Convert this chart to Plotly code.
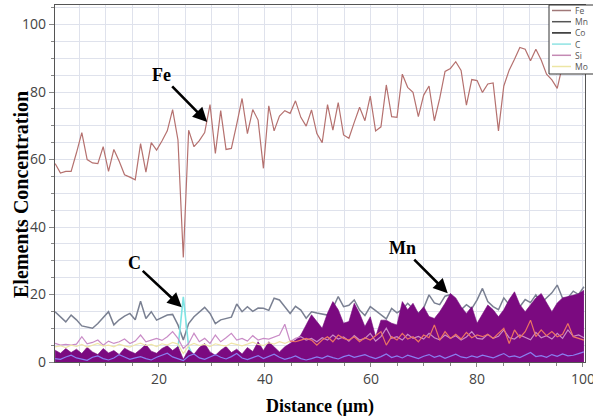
import numpy as np
import plotly.graph_objects as go

# ---------------- data ----------------
distance = np.linspace(0.4, 100.2, 100)  # µm, uniform sampling of the line scan

fe = [58.8, 56.0, 56.5, 56.5, 62.0, 68.0, 60.0, 59.0, 58.8, 63.8,
      56.5, 63.0, 59.5, 55.5, 54.8, 54.0, 64.7, 56.3, 65.0, 62.8,
      65.5, 68.5, 74.8, 65.8, 31.0, 68.7, 63.8, 65.6, 68.0, 76.3,
      61.8, 74.5, 63.0, 63.3, 70.5, 78.1, 67.7, 74.8, 71.7, 57.4,
      75.9, 68.5, 72.9, 74.5, 73.7, 77.4, 72.5, 69.9, 74.7, 67.7,
      65.0, 76.3, 68.7, 76.9, 67.3, 66.3, 71.0, 75.5, 71.5, 78.8,
      68.5, 69.7, 82.1, 72.7, 72.5, 85.3, 81.4, 79.9, 72.7, 79.1,
      81.8, 71.5, 78.1, 86.1, 87.0, 89.0, 86.4, 76.1, 83.7, 83.4,
      79.9, 82.4, 82.7, 68.5, 81.8, 86.5, 89.7, 93.2, 92.7, 89.3,
      92.7, 89.5, 85.3, 83.6, 81.1, 88.0, 90.0, 88.0, 90.0, 89.0]

mn = [3.5, 2.6, 4.0, 2.8, 3.8, 2.5, 4.4, 3.0, 2.2, 4.0,
      2.7, 3.4, 2.2, 4.1, 3.2, 2.5, 3.8, 5.2, 3.2, 2.6,
      4.0, 4.8, 3.4, 4.6, 0.8, 3.6, 2.3, 4.3, 5.5, 3.0,
      2.0, 3.5, 4.6, 2.8, 3.8, 2.4, 4.3, 3.1, 6.0, 3.4,
      6.0, 4.5, 3.0, 4.5, 5.5, 6.5, 8.0, 11.0, 14.0, 12.0,
      10.0, 14.5, 17.9, 15.5, 11.5, 12.0, 17.4, 14.4, 10.5, 13.4,
      7.5, 12.4, 12.4, 11.5, 11.0, 17.9, 15.5, 17.4, 14.4, 16.4,
      13.5, 12.9, 14.9, 17.4, 20.3, 19.0, 16.4, 14.4, 16.4, 11.5,
      14.0, 16.9, 15.5, 13.4, 15.5, 18.5, 20.8, 17.0, 14.9, 17.0,
      19.0, 20.3, 17.4, 14.9, 17.5, 19.0, 19.4, 19.9, 20.2, 21.3]

co = [14.9, 13.5, 11.9, 13.9, 12.5, 10.7, 10.4, 10.0, 11.4, 13.0,
      14.9, 11.0, 12.5, 13.6, 14.4, 12.5, 18.0, 12.9, 14.9, 12.4,
      13.2, 13.9, 14.1, 11.0, 6.5, 11.4, 13.4, 14.8, 16.2, 14.4,
      11.4, 12.5, 12.8, 13.3, 17.2, 14.9, 16.4, 15.0, 16.0, 15.9,
      15.3, 18.9, 18.4, 16.5, 14.4, 16.5, 15.4, 13.0, 14.9, 14.5,
      14.2, 13.9, 16.0, 19.4, 16.4, 16.8, 18.4, 15.4, 13.8, 16.4,
      15.2, 13.9, 12.8, 15.9, 14.6, 15.5, 17.4, 15.8, 14.4, 16.0,
      19.9, 17.5, 17.0, 19.5, 20.0, 16.4, 15.5, 17.0, 15.8, 18.4,
      21.8, 17.9, 16.4, 15.5, 19.0, 17.0, 18.4, 16.4, 18.5, 17.6,
      19.9, 17.5, 19.0, 20.5, 22.8, 18.9, 19.0, 21.0, 20.0, 22.3]

c = [1.2, 1.0, 1.3, 1.1, 1.2, 1.0, 1.4, 1.1, 1.0, 1.3,
     1.1, 1.2, 1.0, 1.3, 1.1, 1.0, 1.2, 1.4, 1.1, 1.0,
     1.3, 1.5, 1.2, 4.0, 19.3, 4.5, 1.2, 1.3, 1.4, 1.1,
     1.0, 1.2, 1.4, 1.1, 1.2, 1.0, 1.3, 1.1, 1.5, 1.2,
     1.4, 1.3, 1.1, 1.3, 1.4, 1.5, 1.6, 1.8, 2.0, 1.9,
     1.8, 2.0, 2.1, 1.9, 1.8, 2.0, 2.1, 1.9, 1.8, 2.0,
     1.7, 1.9, 2.0, 1.8, 1.9, 2.1, 2.0, 1.9, 2.0, 2.1,
     1.9, 1.8, 2.0, 2.1, 2.0, 1.9, 2.0, 1.8, 2.0, 1.9,
     2.0, 2.1, 1.9, 2.0, 2.1, 2.0, 1.9, 2.0, 2.1, 2.0,
     1.9, 2.0, 2.1, 2.0, 1.9, 2.0, 2.1, 2.0, 2.1, 2.0]

si = [5.5, 5.0, 5.2, 5.0, 5.3, 7.5, 5.4, 5.8, 6.5, 5.0,
      6.2, 5.5, 6.0, 6.8, 5.5, 6.2, 8.0, 6.0, 6.5, 7.0,
      6.4, 7.5, 9.0, 7.0, 4.0, 5.5, 8.5, 6.0, 7.0, 5.5,
      8.0, 6.0, 7.2, 8.5, 6.5, 7.0, 6.2, 7.8, 6.5, 7.0,
      6.8, 7.5, 8.0, 11.2, 6.0, 7.0, 7.5, 6.5, 7.0, 6.0,
      7.2, 6.5, 8.0, 6.8, 7.4, 6.2, 7.8, 6.5, 7.0, 8.5,
      6.2, 7.5, 10.0, 7.0, 7.5, 6.5, 8.2, 7.0, 7.6, 6.8,
      8.5, 7.2, 6.6, 8.0, 7.0, 7.8, 6.5, 7.4, 9.0, 7.0,
      6.8, 8.2, 7.0, 7.6, 9.5, 7.2, 6.8, 8.0, 7.4, 6.6,
      8.8, 7.2, 7.8, 6.8, 8.5, 7.0, 9.5, 7.6, 8.0, 7.2]

mo = [4.5, 4.8, 4.3, 5.0, 4.6, 5.2, 4.4, 4.9, 5.5, 4.7,
      5.0, 4.5, 5.3, 4.8, 4.4, 5.1, 5.6, 4.9, 5.2, 4.6,
      5.4, 5.0, 5.8, 5.3, 2.5, 4.8, 5.5, 4.9, 5.2, 4.6,
      5.4, 5.0, 4.7, 5.6, 5.1, 4.8, 5.3, 5.9, 5.2, 4.9,
      5.7, 5.3, 6.0, 5.5, 6.2, 6.0,
      6.5, 7.0, 6.5, 5.0, 6.5, 7.5, 6.0, 8.0, 7.0, 6.5,
      7.5, 6.0, 7.2, 6.5, 7.8, 9.0, 5.0, 7.5, 6.5, 8.5,
      6.8, 7.5, 6.0, 8.0, 7.2, 11.0, 6.5, 9.0, 7.0, 8.2,
      6.8, 8.8, 7.2, 8.0, 7.5, 8.2, 7.0, 8.5, 10.0, 5.5,
      9.5, 7.2, 9.0, 12.4, 7.5, 9.5, 7.8, 9.0, 7.5, 8.2,
      11.4, 7.5, 7.0, 6.5]

low_trace = [1.0, 0.8, 1.5, 2.0, 1.2, 0.8, 0.5, 1.4, 1.8, 1.0,
             0.6, 1.2, 2.2, 1.5, 0.8, 1.2, 1.6, 1.0, 0.6, 1.4,
             2.0, 2.6, 1.5, 1.0, 0.4, 1.8, 2.4, 1.2, 0.8, 1.5,
             2.2, 1.4, 0.9, 1.6, 2.5, 1.2, 0.7, 1.3, 1.9, 1.0,
             1.6, 2.3, 1.4, 0.8, 1.2, 1.8, 1.0, 0.6, 1.0, 1.5,
             1.1, 1.8, 1.3, 0.9, 1.6, 2.0, 1.4, 1.7, 2.2, 1.5,
             1.0, 1.6, 2.4, 1.3, 1.8, 1.2, 2.0, 1.5, 1.0, 1.7,
             2.2, 1.4, 1.9, 1.1, 1.6, 2.3, 1.5, 1.2, 1.8, 1.4,
             2.0, 1.6, 1.2, 1.9, 2.5, 1.5, 1.8, 1.3, 2.1, 2.8,
             1.6, 1.9, 1.4, 2.2, 1.7, 2.4, 1.8, 2.0, 2.5, 3.0]

legend_names = ["Fe", "Mn", "Co", "C", "Si", "Mo"]
legend_colors = ["#a07878", "#555555", "#222222", "#8fe3e3", "#c48ab4", "#ece6a4"]

y_ticks = [0, 20, 40, 60, 80, 100]
x_ticks = [20, 40, 60, 80, 100]

# ---------------- figure ----------------
fig = go.Figure()
mo_split = 44

fig.add_trace(go.Scatter(x=distance, y=fe, name="Fe", mode="lines",
                         line=dict(color="#b5716f", width=1.2)))
fig.add_trace(go.Scatter(x=distance, y=co, name="Co", mode="lines",
                         line=dict(color="#7a8092", width=1.5)))
fig.add_trace(go.Scatter(x=distance, y=c, name="C", mode="lines",
                         line=dict(color="#7fe3e3", width=1.6)))
fig.add_trace(go.Scatter(x=distance, y=mn, name="Mn", mode="lines",
                         fill="tozeroy", fillcolor="#7b0a80",
                         line=dict(color="#74087a", width=0.6)))
fig.add_trace(go.Scatter(x=distance, y=si, name="Si", mode="lines",
                         line=dict(color="#c98bc6", width=1.2)))
fig.add_trace(go.Scatter(x=distance[:mo_split + 1], y=mo[:mo_split + 1], name="Mo",
                         mode="lines", line=dict(color="#efe6a8", width=1.2)))
fig.add_trace(go.Scatter(x=distance[mo_split:], y=mo[mo_split:], name="Mo ",
                         mode="lines", line=dict(color="#ec7462", width=1.2)))
fig.add_trace(go.Scatter(x=distance, y=low_trace, name="low", mode="lines",
                         line=dict(color="#8a7ef0", width=1.2)))

serif_bold = dict(family="Liberation Serif", size=18, color="black")

annotations = [
    dict(x=29.1, y=71.1, ax=-46, ay=-47, text="<b>Fe</b>"),
    dict(x=24.3, y=16.2, ax=-47, ay=-44, text="<b>C</b>"),
    dict(x=74.5, y=20.4, ax=-45, ay=-45, text="<b>Mn</b>"),
]
for a in annotations:
    a.update(xref="x", yref="y", showarrow=True, arrowhead=2, arrowsize=1.1,
             arrowwidth=2.6, arrowcolor="black", font=serif_bold, standoff=0)

px_l, px_r, px_t, px_b = 55, 585, 5, 362
W, H = px_r - px_l, px_b - px_t
def px2paper_x(p):
    return (p - px_l) / W
def px2paper_y(p):
    return 1 - (p - px_t) / H

# y-axis title placed as in the source image (slightly below centre)
annotations.append(dict(xref="paper", yref="paper", x=px2paper_x(21), y=px2paper_y(195),
                        xanchor="center", yanchor="middle", showarrow=False, textangle=-90,
                        text="<b>Elements Concentration</b>",
                        font=dict(family="Liberation Serif", size=20, color="black")))

# legend box styled as in the source image
shapes = []
shapes.append(dict(type="rect", xref="paper", yref="paper",
                   x0=px2paper_x(549), x1=px2paper_x(594),
                   y0=px2paper_y(74), y1=px2paper_y(5),
                   line=dict(color="#333333", width=1), fillcolor="white", layer="above"))
for i, (nm, col) in enumerate(zip(legend_names, legend_colors)):
    yp = 10.5 + i * 11.2
    shapes.append(dict(type="line", xref="paper", yref="paper",
                       x0=px2paper_x(552), x1=px2paper_x(571),
                       y0=px2paper_y(yp), y1=px2paper_y(yp),
                       line=dict(color=col, width=1.5), layer="above"))
    annotations.append(dict(xref="paper", yref="paper", x=px2paper_x(573), y=px2paper_y(yp),
                            xanchor="left", yanchor="middle", showarrow=False, text=nm,
                            font=dict(family="Open Sans", size=8.5, color="#555555")))

grid_col = "#dfe2ec"
fig.update_layout(
    width=593, height=420,
    margin=dict(l=55, r=8, t=5, b=58, autoexpand=False),
    paper_bgcolor="white", plot_bgcolor="white",
    showlegend=False,
    annotations=annotations,
    shapes=shapes,
    xaxis=dict(range=[0.38, 100.4], tickvals=x_ticks, showgrid=True, gridcolor=grid_col,
               minor=dict(dtick=5, tick0=0, showgrid=True, gridcolor=grid_col,
                          ticks="outside", ticklen=3, tickcolor="#888"),
               ticks="outside", ticklen=4, tickcolor="#888",
               showline=True, linecolor="#555", linewidth=1.2, mirror=True,
               zeroline=False, ticklabeloverflow="allow", automargin=False,
               tickfont=dict(family="Open Sans", size=14, color="#444"),
               title=dict(text="<b>Distance (µm)</b>", font=serif_bold, standoff=12)),
    yaxis=dict(range=[0, 105.8], tickvals=y_ticks, showgrid=True, gridcolor=grid_col,
               minor=dict(dtick=5, tick0=0, showgrid=True, gridcolor=grid_col,
                          ticks="outside", ticklen=3, tickcolor="#888"),
               ticks="outside", ticklen=5, tickcolor="#888",
               showline=True, linecolor="#555", linewidth=1.2, mirror=True,
               zeroline=False, automargin=False,
               tickfont=dict(family="Open Sans", size=14, color="#444")),
)

fig.write_html("out.html")
